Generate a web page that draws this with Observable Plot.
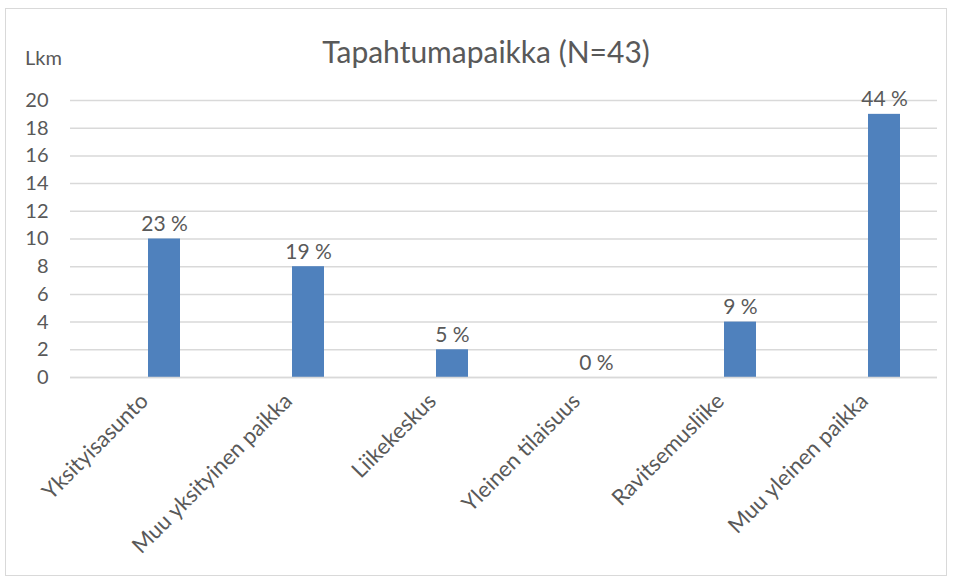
<!DOCTYPE html>
<html>
<head>
<meta charset="utf-8">
<script src="https://cdn.jsdelivr.net/npm/d3@7"></script>
<script src="https://cdn.jsdelivr.net/npm/@observablehq/plot@0.6"></script>
<style>
  body { margin: 0; background: #fff; font-family: Lato, "Open Sans", sans-serif; }
  #wrap { position: relative; width: 954px; height: 578px; }
  #frame { position: absolute; left: 5px; top: 8px; width: 942px; height: 568px; border: 1px solid #d9d9d9; box-sizing: border-box; }
  #title { position: absolute; left: 0; width: 972px; top: 33px; text-align: center; font-size: 30px; color: #595959; line-height: 36px; }
  #ylab { position: absolute; left: 25px; top: 44px; font-size: 20px; color: #595959; line-height: 26px; }
  #chart { position: absolute; left: 0; top: 0; }
</style>
</head>
<body>
<div id="wrap">
  <div id="frame"></div>
  <div id="chart"></div>
  <div id="title">Tapahtumapaikka (N=43)</div>
  <div id="ylab">Lkm</div>
</div>
<script>
const categories = ["Yksityisasunto", "Muu yksityinen paikka", "Liikekeskus", "Yleinen tilaisuus", "Ravitsemusliike", "Muu yleinen paikka"];
const counts = [10, 8, 2, 0, 4, 19];
const percentLabels = ["23 %", "19 %", "5 %", "0 %", "9 %", "44 %"];
const yTicks = [0, 2, 4, 6, 8, 10, 12, 14, 16, 18, 20];

const data = categories.map((c, i) => ({category: c, count: counts[i], label: percentLabels[i]}));

const chart = Plot.plot({
  width: 954,
  height: 578,
  marginLeft: 70,
  marginRight: 17,
  marginTop: 100,
  marginBottom: 201,
  style: {fontFamily: "Lato, 'Open Sans', sans-serif", fontSize: "20px", color: "#595959", background: "transparent", overflow: "visible"},
  x: {domain: categories, range: [91, 957], paddingInner: 0.778, paddingOuter: 0.389, label: null},
  y: {domain: [0, 20], label: null},
  marks: [
    Plot.gridY(yTicks, {stroke: "#d9d9d9", strokeOpacity: 1, strokeWidth: 1.5}),
    Plot.barY(data, {x: "category", y: "count", fill: "#4f81bd"}),
    Plot.ruleY([0], {stroke: "#d9d9d9", strokeWidth: 1.5}),
    Plot.axisY(yTicks, {tickSize: 0, tickPadding: 22, fontSize: 20, fill: "#595959", label: null}),
    Plot.axisX({tickSize: 0, tickPadding: 20, tickRotate: -45, dx: -20, fontSize: 22, fill: "#595959", label: null}),
    Plot.text(data, {x: "category", y: "count", text: "label", lineAnchor: "bottom", dy: -8, fontSize: 21, fill: "#595959"})
  ]
});
document.getElementById("chart").appendChild(chart);
</script>
</body>
</html>
